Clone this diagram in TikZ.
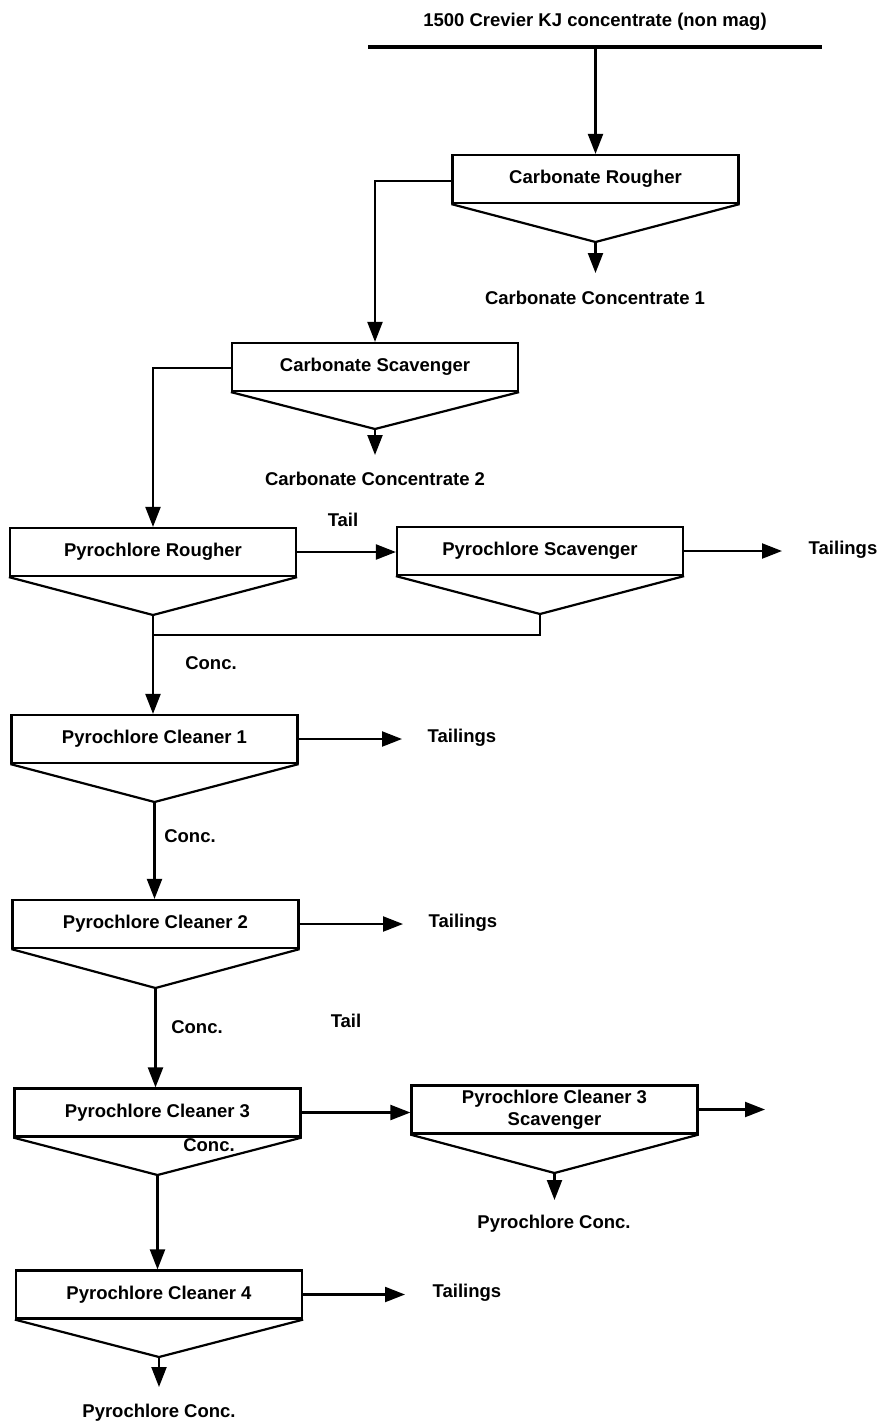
\documentclass[tikz,border=0pt]{standalone}
\usepackage{fontspec}
\setmainfont{Liberation Sans}
\usetikzlibrary{arrows.meta}
\begin{document}
\begin{tikzpicture}[x=1pt,y=-1pt,
  lbl/.style={font=\fontsize{18.5}{22}\selectfont\bfseries, inner sep=0pt},
  cell/.style={draw, line width=2.2pt, minimum width=286pt, minimum height=48pt, inner sep=0pt, font=\fontsize{18.5}{23}\selectfont\bfseries, align=center},
  flow/.style={line width=2.2pt, -{Triangle[length=20pt,width=15pt]}},
  wire/.style={line width=2.2pt},
  cone/.style={line width=2.2pt}
]
\useasboundingbox (0,0) rectangle (879,1422);

% feed
\node[lbl] (title) at (595,22) {1500 Crevier KJ concentrate (non mag)};
\coordinate (feedL) at (368,47);
\coordinate (feedR) at (822,47);
\coordinate (feed) at (595.5,47);
\draw[line width=4pt] (feedL) -- (feedR);

% boxes
\node[cell] (cr) at (595.5,179) {Carbonate Rougher};
\node[cell] (cs) at (375,367) {Carbonate Scavenger};
\node[cell] (pr) at (153,552) {Pyrochlore Rougher};
\node[cell] (ps) at (540,551) {Pyrochlore Scavenger};
\node[cell] (pc1) at (154.5,739) {Pyrochlore Cleaner 1};
\node[cell] (pc2) at (155.5,924) {Pyrochlore Cleaner 2};
\node[cell] (pc3) at (157.5,1112.5) {Pyrochlore Cleaner 3};
\node[cell] (pc3s) at (554.5,1109.5) {Pyrochlore Cleaner 3\\[-1pt]Scavenger};
\node[cell] (pc4) at (159,1294.5) {Pyrochlore Cleaner 4};

% cones (apexes)
\coordinate (crA) at (595.5,242);
\coordinate (csA) at (375,429);
\coordinate (prA) at (153,615);
\coordinate (psA) at (540,614);
\coordinate (pc1A) at (154.5,802);
\coordinate (pc2A) at (155.5,988);
\coordinate (pc3A) at (157.5,1175);
\coordinate (pc3sA) at (554.5,1173);
\coordinate (pc4A) at (159,1357);
\foreach \b in {cr,cs,pr,ps,pc1,pc2,pc3,pc3s,pc4}{
  \draw[cone,line join=miter] (\b.south west) -- (\b A) -- (\b.south east);
}

% feed to carbonate rougher
\draw[flow] (feed) -- (cr.north);

% carbonate rougher
\coordinate (crC) at (595.5,273);
\draw[flow] (crA) -- (crC);
\node[lbl] (cc1) at (595,298) {Carbonate Concentrate 1};
\coordinate (crW) at (375,181);
\draw[flow] (cr.west |- crW) -- (crW) -- (crW |- cs.north);

% carbonate scavenger
\coordinate (csC) at (375,455);
\draw[flow] (csA) -- (csC);
\node[lbl] (cc2) at (375,479) {Carbonate Concentrate 2};
\coordinate (csW) at (153,368);
\draw[flow] (cs.west |- csW) -- (csW) -- (pr.north);

% pyrochlore rougher / scavenger
\draw[flow] (pr.east) -- (pr.east -| ps.west);
\node[lbl] (tail1) at (343,520) {Tail};
\coordinate (psE) at (782,551);
\draw[flow] (ps.east) -- (psE);
\node[lbl] (tl1) at (843,550) {Tailings};
\coordinate (join) at (153,635);
\draw[wire] (psA) -- (psA |- join) -- (join);
\draw[flow] (prA) -- (prA |- pc1.north);
\node[lbl] (conc1) at (211,663) {Conc.};

% cleaner 1
\coordinate (pc1E) at (402,739);
\draw[flow] (pc1.east) -- (pc1E);
\node[lbl] (tl2) at (462,738) {Tailings};
\draw[flow] (pc1A) -- (pc1A |- pc2.north);
\node[lbl] (conc2) at (190,836) {Conc.};

% cleaner 2
\coordinate (pc2E) at (403,924);
\draw[flow] (pc2.east) -- (pc2E);
\node[lbl] (tl3) at (463,923) {Tailings};
\draw[flow] (pc2A) -- (pc2A |- pc3.north);
\node[lbl] (conc3) at (197,1027) {Conc.};
\node[lbl] (tail2) at (346,1021) {Tail};

% cleaner 3
\draw[flow] (pc3.east) -- (pc3.east -| pc3s.west);
\node[lbl] (conc4) at (209,1145) {Conc.};
\draw[flow] (pc3A) -- (pc3A |- pc4.north);

% cleaner 3 scavenger
\coordinate (pc3sE) at (765,1109.5);
\draw[flow] (pc3s.east) -- (pc3sE);
\coordinate (pc3sC) at (554.5,1200);
\draw[flow] (pc3sA) -- (pc3sC);
\node[lbl] (pcc1) at (554,1224) {Pyrochlore Conc.};

% cleaner 4
\coordinate (pc4E) at (405,1294.5);
\draw[flow] (pc4.east) -- (pc4E);
\node[lbl] (tl4) at (467,1293) {Tailings};
\coordinate (pc4C) at (159,1387);
\draw[flow] (pc4A) -- (pc4C);
\node[lbl] (pcc2) at (159,1413) {Pyrochlore Conc.};
\end{tikzpicture}
\end{document}
